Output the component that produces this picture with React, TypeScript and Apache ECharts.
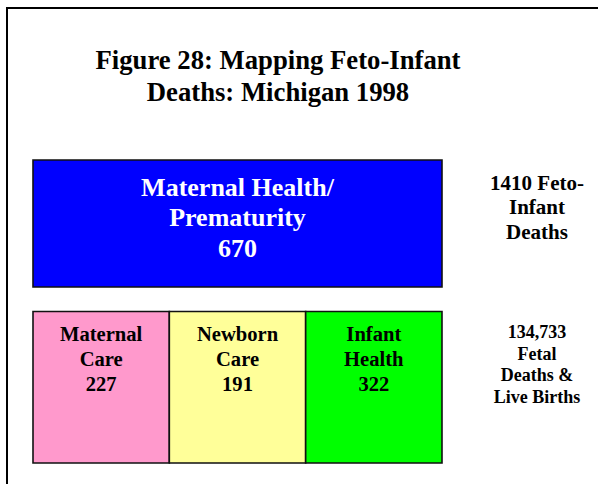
import React, { useEffect, useRef } from "react";
import * as echarts from "echarts";

// ---- data ----
const titleLines = ["Figure 28: Mapping Feto-Infant", "Deaths: Michigan 1998"];
const parentLabel = ["Maternal Health/", "Prematurity"];
const parentValue = 670;
const childLabels = [["Maternal", "Care"], ["Newborn", "Care"], ["Infant", "Health"]];
const childValues = [227, 191, 322];
const totalDeaths = 1410;
const totalBirths = 134733;
const rowCategories = ["components", "total"];

// ---- styles ----
const SERIF = '"Liberation Serif", "Times New Roman", serif';
const parentColor = "#0000FF";
const childColors = ["#FF99CC", "#FFFF99", "#00FF00"];
const topRowGap = 24.5;

type Box = { x0: number; x1: number; row: number; lines: string[]; fill: string; textFill: string; size: number; lh: number; pad: number };

const boxes: Box[] = [
  { x0: 0, x1: childValues.length, row: 1, lines: [...parentLabel, String(parentValue)], fill: parentColor, textFill: "#FFFFFF", size: 26, lh: 30.5, pad: 12 },
  ...childValues.map((v, i) => ({ x0: i, x1: i + 1, row: 0, lines: [...childLabels[i], String(v)], fill: childColors[i], textFill: "#000000", size: 20.6, lh: 24.7, pad: 10.3 })),
];

const sideLabels = [
  { row: 1, lines: [`${totalDeaths} Feto-`, "Infant", "Deaths"], size: 21, lh: 24.5, pad: 10.6 },
  { row: 0, lines: [totalBirths.toLocaleString("en-US"), "Fetal", "Deaths &", "Live Births"], size: 18, lh: 21.5, pad: 10.2 },
];

export default function App() {
  const ref = useRef<HTMLDivElement>(null);
  useEffect(() => {
    if (!ref.current) return;
    const chart = echarts.init(ref.current, null, { renderer: "svg" });
    const rowTop = (api: any, row: number) => {
      const band = api.size([0, 1])[1];
      const c = api.coord([0, row]);
      return { top: c[1] - band / 2, band };
    };
    chart.setOption({
      animation: false,
      backgroundColor: "#FFFFFF",
      grid: { left: 33, right: 156, top: 160, bottom: 21 },
      xAxis: { type: "value", min: 0, max: childValues.length, show: false },
      yAxis: { type: "category", data: rowCategories, show: false },
      graphic: [
        { type: "rect", shape: { x: 7, y: 8, width: 800, height: 800 }, style: { fill: "none", stroke: "#000", lineWidth: 2 }, z: 0 },
        {
          type: "text", x: 278, y: 44,
          style: { text: titleLines.join("\n"), fill: "#000", font: `bold 26.7px ${SERIF}`, align: "center", textAlign: "center", verticalAlign: "top", textVerticalAlign: "top", lineHeight: 32 },
        },
      ],
      series: [
        {
          type: "custom",
          data: boxes.map((b) => [b.x0, b.x1, b.row]),
          renderItem: (params: any, api: any) => {
            const b = boxes[params.dataIndex];
            const p0 = api.coord([api.value(0), b.row]);
            const p1 = api.coord([api.value(1), b.row]);
            const { top, band } = rowTop(api, b.row);
            const h = b.row === 1 ? band - topRowGap : band;
            return {
              type: "group",
              children: [
                { type: "rect", shape: { x: p0[0], y: top, width: p1[0] - p0[0], height: h }, style: { fill: b.fill, stroke: "#111", lineWidth: 1.6 } },
                {
                  type: "text", x: (p0[0] + p1[0]) / 2, y: top + b.pad,
                  style: { text: b.lines.join("\n"), fill: b.textFill, font: `bold ${b.size}px ${SERIF}`, align: "center", textAlign: "center", verticalAlign: "top", textVerticalAlign: "top", lineHeight: b.lh },
                },
              ],
            };
          },
        },
        {
          type: "custom",
          data: sideLabels.map((s) => [childValues.length, s.row]),
          renderItem: (params: any, api: any) => {
            const s = sideLabels[params.dataIndex];
            const p = api.coord([api.value(0), s.row]);
            const { top } = rowTop(api, s.row);
            return {
              type: "text", x: p[0] + 95, y: top + s.pad,
              style: { text: s.lines.join("\n"), fill: "#000", font: `bold ${s.size}px ${SERIF}`, align: "center", textAlign: "center", verticalAlign: "top", textVerticalAlign: "top", lineHeight: s.lh },
            };
          },
        },
      ],
    });
    return () => chart.dispose();
  }, []);
  return <div ref={ref} style={{ width: 598, height: 484, position: "absolute", left: 0, top: 0 }} />;
}
